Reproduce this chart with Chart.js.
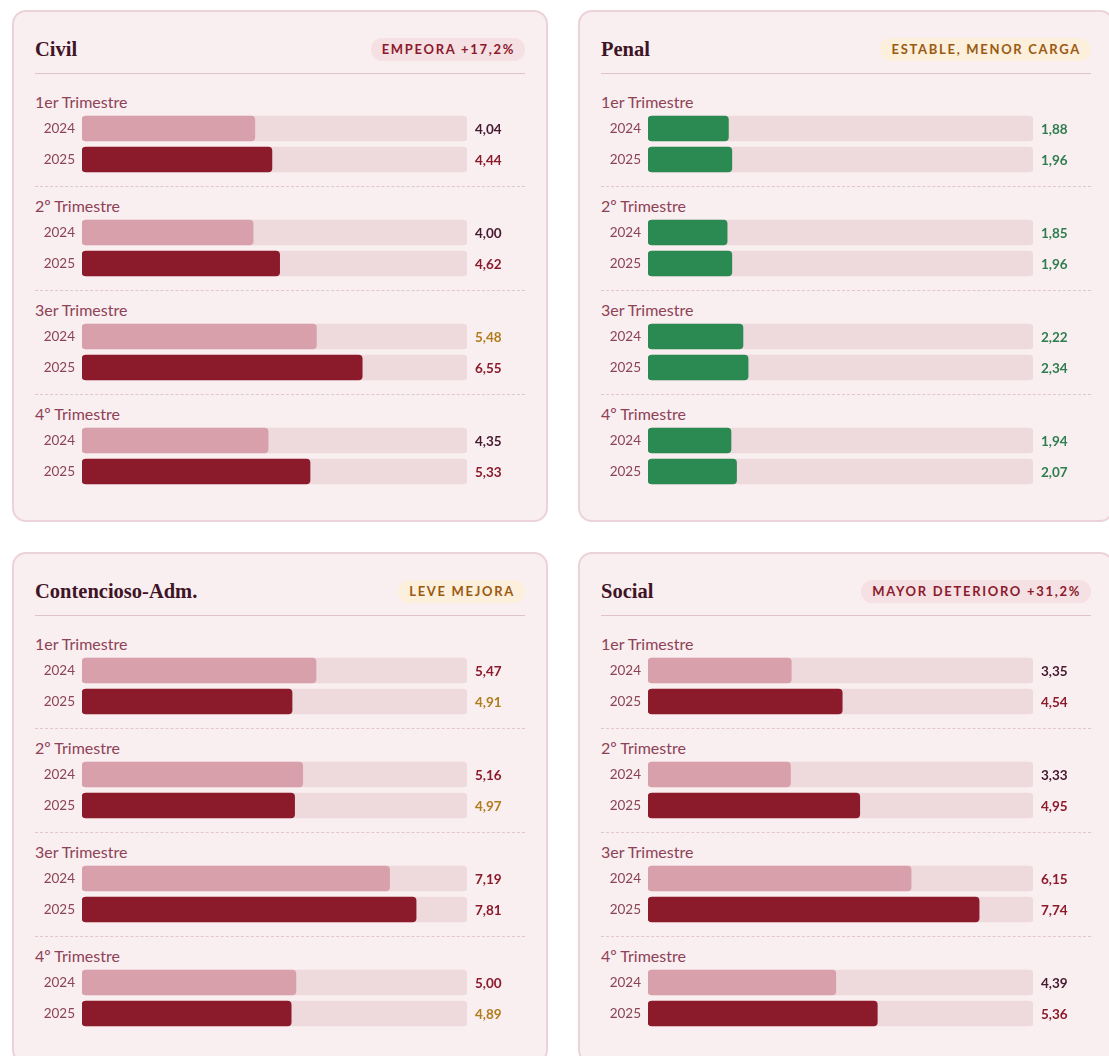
<!DOCTYPE html>
<html lang="es">
<head>
<meta charset="utf-8">
<title>Tasa de congestión por jurisdicción</title>
<script src="https://cdn.jsdelivr.net/npm/chart.js@4.4.1/dist/chart.umd.min.js"></script>
<style>
  html, body { margin: 0; padding: 0; background: #fff; }
  body {
    width: 1109px;
    height: 1056px;
    overflow: hidden;
    font-family: Lato, 'Open Sans', sans-serif;
  }
  .grid {
    display: grid;
    grid-template-columns: 536px 536px;
    column-gap: 30px;
    row-gap: 30px;
    padding: 10px 0 0 12px;
    width: 1102px;
  }
  .card {
    box-sizing: border-box;
    height: 512px;
    border: 2px solid #ecd3d9;
    border-radius: 14px;
    background: #f9eef0;
    padding: 25px 21px 22px;
  }
  .head {
    display: flex;
    justify-content: space-between;
    align-items: center;
    height: 24px;
    padding-bottom: 12px;
    border-bottom: 1px solid #dfc3c9;
    margin-bottom: 9px;
  }
  .ttl {
    font-family: 'Liberation Serif', 'DejaVu Serif', serif;
    font-weight: 700;
    font-size: 20.5px;
    color: #3e1426;
  }
  .badge {
    font-size: 13px;
    font-weight: 700;
    letter-spacing: 1.7px;
    line-height: 15px;
    padding: 4px 10px 4px 11px;
    border-radius: 12px;
  }
  .badge.bad { background: #f5e0e4; color: #8b1a2b; }
  .badge.warn { background: #fcefdc; color: #9a5a12; }
  .q {
    padding: 10px 0 11px;
    border-bottom: 1px dashed #e2c6cc;
  }
  .q:last-child { border-bottom: none; }
  .qt {
    font-size: 16px;
    line-height: 18px;
    color: #8e4256;
    margin-bottom: 2px;
  }
  .cv { position: relative; height: 62px; }
</style>
</head>
<body>
<div class="grid" id="grid"></div>

<script>
// ---- data ----
const quarters = ['1er Trimestre', '2º Trimestre', '3er Trimestre', '4º Trimestre'];
const years = ['2024', '2025'];
const axisMax = 9;

const civil2024 = [4.04, 4.00, 5.48, 4.35];
const civil2025 = [4.44, 4.62, 6.55, 5.33];
const penal2024 = [1.88, 1.85, 2.22, 1.94];
const penal2025 = [1.96, 1.96, 2.34, 2.07];
const contencioso2024 = [5.47, 5.16, 7.19, 5.00];
const contencioso2025 = [4.91, 4.97, 7.81, 4.89];
const social2024 = [3.35, 3.33, 6.15, 4.39];
const social2025 = [4.54, 4.95, 7.74, 5.36];

// colour of the value text next to each bar, [2024, 2025] per quarter
const civilTones = [['dark', 'red'], ['dark', 'red'], ['gold', 'red'], ['dark', 'red']];
const penalTones = [['green', 'green'], ['green', 'green'], ['green', 'green'], ['green', 'green']];
const contenciosoTones = [['red', 'gold'], ['red', 'gold'], ['red', 'red'], ['red', 'gold']];
const socialTones = [['dark', 'red'], ['dark', 'red'], ['red', 'red'], ['dark', 'red']];

const toneColors = {
  dark: '#45192f',
  red: '#8b1a2b',
  gold: '#b07d1c',
  green: '#2e7d4f'
};

const panels = [
  { title: 'Civil', badge: 'EMPEORA +17,2%', badgeType: 'bad',
    v2024: civil2024, v2025: civil2025, tones: civilTones, colors: ['#d8a0aa', '#8b1a2b'] },
  { title: 'Penal', badge: 'ESTABLE, MENOR CARGA', badgeType: 'warn',
    v2024: penal2024, v2025: penal2025, tones: penalTones, colors: ['#2b8a52', '#2b8a52'] },
  { title: 'Contencioso-Adm.', badge: 'LEVE MEJORA', badgeType: 'warn',
    v2024: contencioso2024, v2025: contencioso2025, tones: contenciosoTones, colors: ['#d8a0aa', '#8b1a2b'] },
  { title: 'Social', badge: 'MAYOR DETERIORO +31,2%', badgeType: 'bad',
    v2024: social2024, v2025: social2025, tones: socialTones, colors: ['#d8a0aa', '#8b1a2b'] }
];

const fmt = v => v.toFixed(2).replace('.', ',');

// values printed to the right of the track
const valueLabels = {
  id: 'valueLabels',
  afterDatasetsDraw(chart, args, opts) {
    const ctx = chart.ctx;
    const ds = chart.data.datasets[1];
    const meta = chart.getDatasetMeta(1);
    ctx.save();
    ctx.font = 'bold 13.5px Lato';
    ctx.textBaseline = 'middle';
    ctx.textAlign = 'left';
    meta.data.forEach((bar, i) => {
      ctx.fillStyle = opts.colors[i];
      ctx.fillText(fmt(ds.data[i]), chart.chartArea.right + 8, bar.y + 1);
    });
    ctx.restore();
  }
};

const grid = document.getElementById('grid');

panels.forEach(p => {
  const card = document.createElement('div');
  card.className = 'card';
  card.innerHTML =
    '<div class="head"><span class="ttl">' + p.title + '</span>' +
    '<span class="badge ' + p.badgeType + '">' + p.badge + '</span></div>';
  grid.appendChild(card);

  quarters.forEach((q, qi) => {
    const sec = document.createElement('div');
    sec.className = 'q';
    sec.innerHTML = '<div class="qt">' + q + '</div><div class="cv"><canvas></canvas></div>';
    card.appendChild(sec);

    const values = [p.v2024[qi], p.v2025[qi]];
    new Chart(sec.querySelector('canvas'), {
      type: 'bar',
      data: {
        labels: years,
        datasets: [
          {
            // background track
            data: years.map(() => axisMax),
            backgroundColor: '#eed9dc',
            barThickness: 25,
            borderRadius: 4,
            borderSkipped: false,
            grouped: false,
            order: 2
          },
          {
            data: values,
            backgroundColor: p.colors,
            barThickness: 25,
            borderRadius: 4,
            borderSkipped: false,
            grouped: false,
            order: 1
          }
        ]
      },
      options: {
        indexAxis: 'y',
        responsive: true,
        maintainAspectRatio: false,
        animation: false,
        events: [],
        layout: { padding: { left: 0, right: 58, top: 0, bottom: 0 } },
        plugins: {
          legend: { display: false },
          tooltip: { enabled: false },
          valueLabels: { colors: p.tones[qi].map(t => toneColors[t]) }
        },
        scales: {
          x: { display: false, min: 0, max: axisMax },
          y: {
            grid: { display: false, drawTicks: false },
            border: { display: false },
            ticks: {
              padding: 7,
              color: '#8b4457',
              font: { family: 'Lato', size: 13.5 }
            },
            // fixed gutter for the year labels, and no extra room above/below
            afterFit: scale => {
              scale.width = 47;
              scale.paddingTop = 0;
              scale.paddingBottom = 0;
            }
          }
        }
      },
      plugins: [valueLabels]
    });
  });
});
</script>
</body>
</html>
